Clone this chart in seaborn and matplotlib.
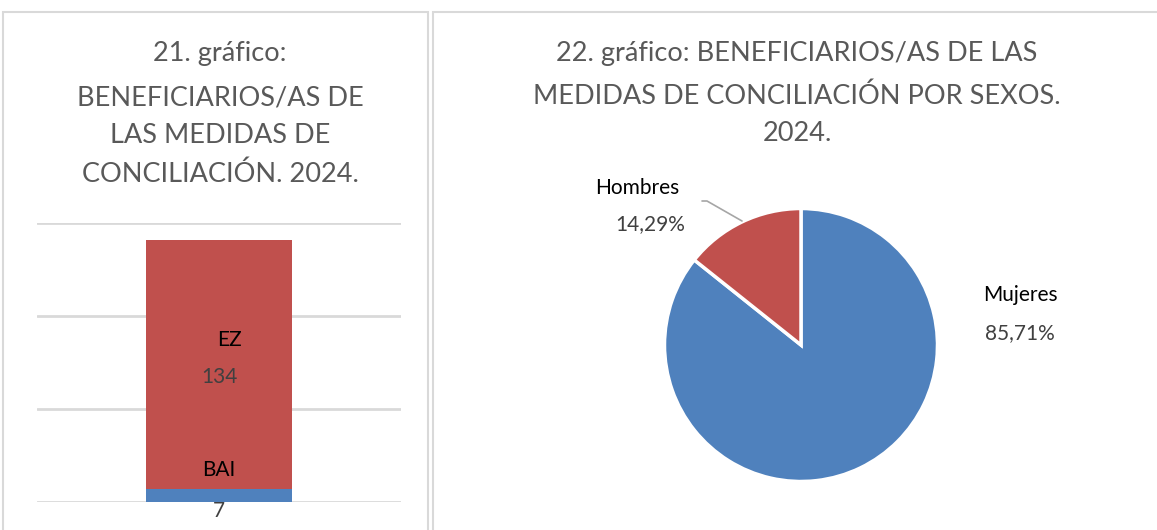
import matplotlib
matplotlib.use("Agg")
import matplotlib.pyplot as plt
import seaborn as sns
import pandas as pd
from matplotlib.patches import Rectangle

# Data
bar_series = ["BAI", "EZ"]
bar_values = [7, 134]
pie_labels = ["Mujeres", "Hombres"]
pie_values = [85.71, 14.29]

RED = "#C0504D"
BLUE = "#4F81BD"
GRID = "#D9D9D9"
TITLE_C = "#595959"
VAL_C = "#404040"

sns.set_theme(style="white")
plt.rcParams["font.family"] = ["Lato", "DejaVu Sans"]

W, H = 1157, 530
fig = plt.figure(figsize=(W / 100, H / 100), dpi=100)

def px(x0, y0, x1, y1):
    # pixel box (top-left origin) -> figure coords
    return [x0 / W, 1 - y1 / H, (x1 - x0) / W, (y1 - y0) / H]

# panel borders
for x0, x1 in [(3, 428), (433, 1170)]:
    fig.patches.append(Rectangle((x0 / W, -0.1), (x1 - x0) / W, 1.1 - 12 / H,
                                 transform=fig.transFigure, fill=False,
                                 edgecolor=GRID, lw=1.5))

# ---- left: stacked bar ----
ax1 = fig.add_axes(px(37, 223, 401, 502))
df = pd.DataFrame({"cat": [""], "total": [sum(bar_values)], "bai": [bar_values[0]]})
sns.barplot(data=df, x="cat", y="total", color=RED, saturation=1, width=0.4,
            linewidth=0, ax=ax1)
sns.barplot(data=df, x="cat", y="bai", color=BLUE, saturation=1, width=0.4,
            linewidth=0, ax=ax1)
ax1.set_xlim(-0.5, 0.5)
ax1.set_ylim(0, 150)
ax1.set_yticks([0, 50, 100, 150])
ax1.yaxis.grid(True, color=GRID, lw=2)
ax1.set_axisbelow(True)
ax1.set_xlabel("")
ax1.set_ylabel("")
ax1.set_xticks([])
ax1.tick_params(left=False, labelleft=False)
for s in ax1.spines.values():
    s.set_visible(False)

LBL = 15
ez_mid = bar_values[0] + bar_values[1] / 2
ax1.text(0.03, ez_mid + 13, bar_series[1], ha="center", va="center", fontsize=LBL, color="black")
ax1.text(0, ez_mid - 7, str(bar_values[1]), ha="center", va="center", fontsize=LBL, color=VAL_C)
ax1.text(0, bar_values[0] + 10, bar_series[0], ha="center", va="center", fontsize=LBL, color="black")
ax1.text(0, bar_values[0] - 12, str(bar_values[0]), ha="center", va="center", fontsize=LBL,
         color=VAL_C, clip_on=False)

TT = 19.5
for y, line in zip([54, 98, 136, 174],
                   ["21. gráfico:", "BENEFICIARIOS/AS DE", "LAS MEDIDAS DE", "CONCILIACIÓN. 2024."]):
    fig.text(220 / W, 1 - y / H, line, ha="center", va="center", fontsize=TT, color=TITLE_C)

# ---- right: pie ----
R = 136.5
cx, cy = 801, 345
ax2 = fig.add_axes(px(cx - R, cy - R, cx + R, cy + R))
ax2.pie(pie_values, colors=[BLUE, RED], startangle=90, counterclock=False,
        wedgeprops=dict(edgecolor="white", linewidth=2.5))
ax2.set_xlim(-1, 1)
ax2.set_ylim(-1, 1)
ax2.set_aspect("equal")

def to_d(x, y):
    return (x - cx) / R, (cy - y) / R

fmt = lambda v: f"{v:.2f}%".replace(".", ",")
x, y = to_d(1020, 295)
ax2.text(x, y, pie_labels[0], ha="center", va="center", fontsize=LBL, color="black", clip_on=False)
x, y = to_d(1020, 333)
ax2.text(x, y, fmt(pie_values[0]), ha="center", va="center", fontsize=LBL, color=VAL_C, clip_on=False)
x, y = to_d(637, 188)
ax2.text(x, y, pie_labels[1], ha="center", va="center", fontsize=LBL, color="black", clip_on=False)
x, y = to_d(650, 224)
ax2.text(x, y, fmt(pie_values[1]), ha="center", va="center", fontsize=LBL, color=VAL_C, clip_on=False)
pts = [to_d(702, 201), to_d(707, 201), to_d(742, 221)]
ax2.plot([p[0] for p in pts], [p[1] for p in pts], color="#A6A6A6", lw=1.2, clip_on=False)

for y, line in zip([54, 96, 134],
                   ["22. gráfico: BENEFICIARIOS/AS DE LAS",
                    "MEDIDAS DE CONCILIACIÓN POR SEXOS.", "2024."]):
    fig.text(797 / W, 1 - y / H, line, ha="center", va="center", fontsize=TT, color=TITLE_C)

fig.savefig("out.png", dpi=100, facecolor="white")
